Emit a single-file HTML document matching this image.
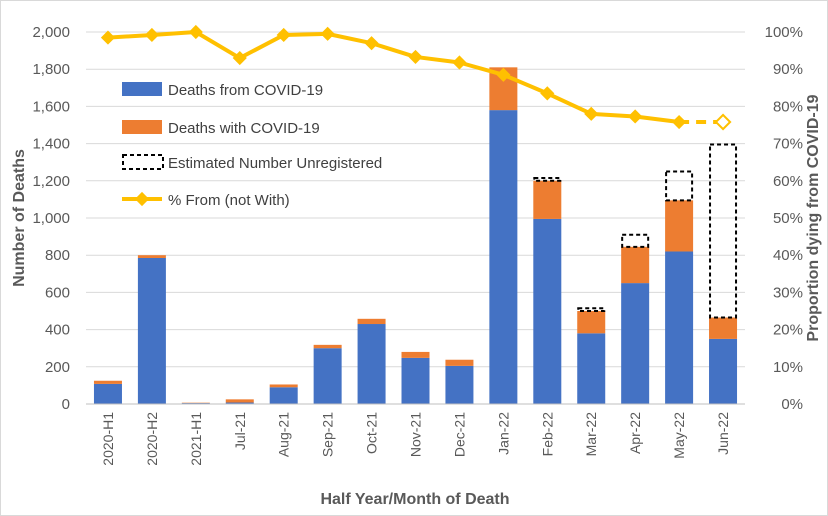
<!DOCTYPE html>
<html><head><meta charset="utf-8"><style>
body{margin:0;background:#fff;}
svg{display:block;font-family:"Liberation Sans",sans-serif;}
</style></head><body>
<svg id="chart" width="828" height="516" viewBox="0 0 828 516">
<rect x="0.5" y="0.5" width="827" height="515" fill="#fff" stroke="#d9d9d9"/>
<g id="grid"></g><g id="bars"></g><g id="line"></g><g id="axes"></g>
<text x="415" y="504" text-anchor="middle" font-size="16" font-weight="bold" fill="#595959">Half Year/Month of Death</text>
<text transform="translate(24,218) rotate(-90)" text-anchor="middle" font-size="16" font-weight="bold" fill="#595959">Number of Deaths</text>
<text transform="translate(818,218) rotate(-90)" text-anchor="middle" font-size="16" font-weight="bold" fill="#595959">Proportion dying from COVID-19</text>
<g>
<rect x="122" y="82" width="40" height="14" fill="#4472c4"/>
<text x="168" y="95" font-size="15" fill="#404040">Deaths from COVID-19</text>
<rect x="122" y="120" width="40" height="14" fill="#ed7d31"/>
<text x="168" y="133" font-size="15" fill="#404040">Deaths with COVID-19</text>
<rect x="123" y="155" width="40" height="14" fill="none" stroke="#000" stroke-width="2" stroke-dasharray="4,3"/>
<text x="168" y="168" font-size="15" fill="#404040">Estimated Number Unregistered</text>
<line x1="122" y1="199" x2="162" y2="199" stroke="#ffc000" stroke-width="4"/>
<rect x="137" y="194" width="10" height="10" fill="#ffc000" transform="rotate(45 142 199)"/>
<text x="168" y="205" font-size="15" fill="#404040">% From (not With)</text>
</g>
</svg>
<script>
const categories=["2020-H1","2020-H2","2021-H1","Jul-21","Aug-21","Sep-21","Oct-21","Nov-21","Dec-21","Jan-22","Feb-22","Mar-22","Apr-22","May-22","Jun-22"];
const fromDeaths=[108,785,5,8,90,300,430,248,205,1580,995,380,650,820,350];
const withDeaths=[17,15,2,17,15,18,28,32,33,230,205,120,195,275,115];
const unregistered=[0,0,0,0,0,0,0,0,0,0,15,15,65,155,930];
const pctFrom=[98.5,99.2,100,93,99.2,99.5,97,93.3,91.8,88.5,83.5,78,77.3,75.8,75.8];
const leftTicks=[0,200,400,600,800,1000,1200,1400,1600,1800,2000];
const rightTicks=[0,10,20,30,40,50,60,70,80,90,100];
const NS="http://www.w3.org/2000/svg";
const X0=86,X1=745,Y0=404,Y1=32;
const step=(X1-X0)/categories.length;
const xc=i=>X0+step*(i+0.5);
const y=v=>Y0-(v/2000)*(Y0-Y1);
const yp=p=>Y0-(p/100)*(Y0-Y1);
function mk(tag,attrs,parent){const e=document.createElementNS(NS,tag);for(const k in attrs)e.setAttribute(k,attrs[k]);document.getElementById(parent).appendChild(e);return e;}
leftTicks.forEach(t=>{
 if(t>0){const g=mk('line',{x1:X0,x2:X1,y1:y(t),y2:y(t),stroke:'#d9d9d9','stroke-width':1},'grid');
 
 }
 const l=mk('text',{x:70,y:y(t)+5,'text-anchor':'end','font-size':15,fill:'#595959'},'axes');l.textContent=t.toLocaleString('en-US');
 
 
});
rightTicks.forEach(t=>{
 const l=mk('text',{x:803,y:yp(t)+5,'text-anchor':'end','font-size':15,fill:'#595959'},'axes');l.textContent=t+'%';
 
 
});
const ax=mk('line',{x1:X0,x2:X1,y1:Y0,y2:Y0,stroke:'#bfbfbf','stroke-width':1},'axes');


const bw=28;
categories.forEach((c,i)=>{
 const x=xc(i)-bw/2;
 const b=mk('rect',{x:x,y:y(fromDeaths[i]),width:bw,height:Y0-y(fromDeaths[i]),fill:'#4472c4'},'bars');
 
 
 const tot=fromDeaths[i]+withDeaths[i];
 const w=mk('rect',{x:x,y:y(tot),width:bw,height:y(fromDeaths[i])-y(tot),fill:'#ed7d31'},'bars');
 
 
 if(unregistered[i]>0){
  const u=mk('rect',{x:x+1,y:y(tot+unregistered[i]),width:bw-2,height:y(tot)-y(tot+unregistered[i]),fill:'none',stroke:'#000','stroke-width':2,'stroke-dasharray':'4,3'},'bars');
  
  
 }
 const t=mk('text',{transform:`translate(${xc(i)+5},412) rotate(-90)`,'text-anchor':'end','font-size':14,fill:'#595959'},'axes');t.textContent=c;
 
 
});
const n=pctFrom.length;
let d='';for(let i=0;i<n-1;i++)d+=(i?'L':'M')+xc(i)+','+yp(pctFrom[i]);
const pl=mk('path',{d:d,fill:'none',stroke:'#ffc000','stroke-width':4,'stroke-linejoin':'round'},'line');


const dl=mk('line',{x1:xc(n-2),y1:yp(pctFrom[n-2]),x2:xc(n-1),y2:yp(pctFrom[n-1]),stroke:'#ffc000','stroke-width':4,'stroke-dasharray':'10,7'},'line');


pctFrom.forEach((p,i)=>{
 const last=i===n-1;
 const m=mk('rect',{x:xc(i)-5,y:yp(p)-5,width:10,height:10,fill:last?'#fff':'#ffc000',stroke:'#ffc000','stroke-width':last?2:0,transform:`rotate(45 ${xc(i)} ${yp(p)})`},'line');
 
 
});
</script>
</body></html>
